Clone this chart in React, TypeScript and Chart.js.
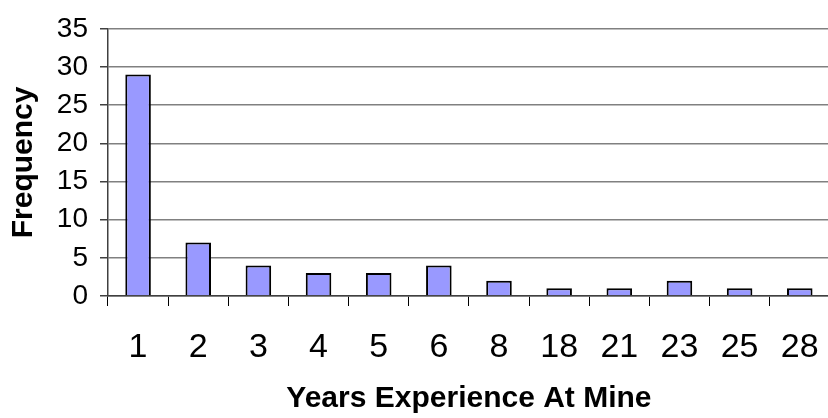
import React, { useEffect, useRef } from "react";
import { Chart, registerables } from "chart.js";

Chart.register(...registerables);

const categories = ["1", "2", "3", "4", "5", "6", "8", "18", "21", "23", "25", "28"];
const frequencies = [29, 7, 4, 3, 3, 4, 2, 1, 1, 2, 1, 1];
const yTicks = [0, 5, 10, 15, 20, 25, 30, 35];

const FONT = "'Liberation Sans', Arial, sans-serif";

export default function App() {
  const ref = useRef<HTMLCanvasElement | null>(null);

  useEffect(() => {
    document.body.style.overflow = "hidden";
    const canvas = ref.current;
    if (!canvas) return;
    const chart = new Chart(canvas, {
      type: "bar",
      data: {
        labels: categories,
        datasets: [
          {
            data: frequencies,
            backgroundColor: "#9999FF",
            borderColor: "#000000",
            borderWidth: 2,
            barPercentage: 0.425,
            categoryPercentage: 1,
          },
        ],
      },
      options: {
        responsive: false,
        animation: false,
        devicePixelRatio: 1,
        layout: { padding: { top: 24, right: 8, bottom: 0, left: 0 } },
        plugins: { legend: { display: false }, tooltip: { enabled: false } },
        scales: {
          x: {
            offset: true,
            grid: {
              offset: true,
              drawOnChartArea: false,
              drawTicks: true,
              tickLength: 10,
              tickColor: "#000000",
              tickWidth: 1,
            },
            border: { color: "#404040", width: 1.5 },
            ticks: {
              color: "#000000",
              font: { family: FONT, size: 34 },
              padding: 21,
              maxRotation: 0,
              autoSkip: false,
            },
            title: {
              display: true,
              text: "Years Experience At Mine",
              color: "#000000",
              font: { family: FONT, size: 30, weight: "bold" },
              padding: { top: 0, bottom: 1 },
            },
            afterFit: (s: any) => {
              s.height = 122;
            },
          },
          y: {
            min: 0,
            max: 35,
            afterBuildTicks: (s: any) => {
              s.ticks = yTicks.map((v) => ({ value: v }));
            },
            grid: {
              color: "#808080",
              lineWidth: 1.5,
              drawTicks: true,
              tickLength: 8,
              tickColor: "#404040",
            },
            border: { color: "#404040", width: 1.5 },
            ticks: {
              color: "#000000",
              font: { family: FONT, size: 28 },
              padding: 12,
            },
            title: {
              display: true,
              text: "Frequency",
              color: "#000000",
              font: { family: FONT, size: 30, weight: "bold" },
              padding: { top: 6, bottom: 0 },
            },
            afterFit: (s: any) => {
              s.width = 108;
            },
          },
        },
      },
    });
    return () => chart.destroy();
  }, []);

  return (
    <div
      style={{
        position: "fixed",
        left: 0,
        top: 0,
        width: 828,
        height: 418,
        overflow: "hidden",
        background: "#ffffff",
      }}
    >
      <canvas ref={ref} width={840} height={418} style={{ width: 840, height: 418, display: "block" }} />
    </div>
  );
}
